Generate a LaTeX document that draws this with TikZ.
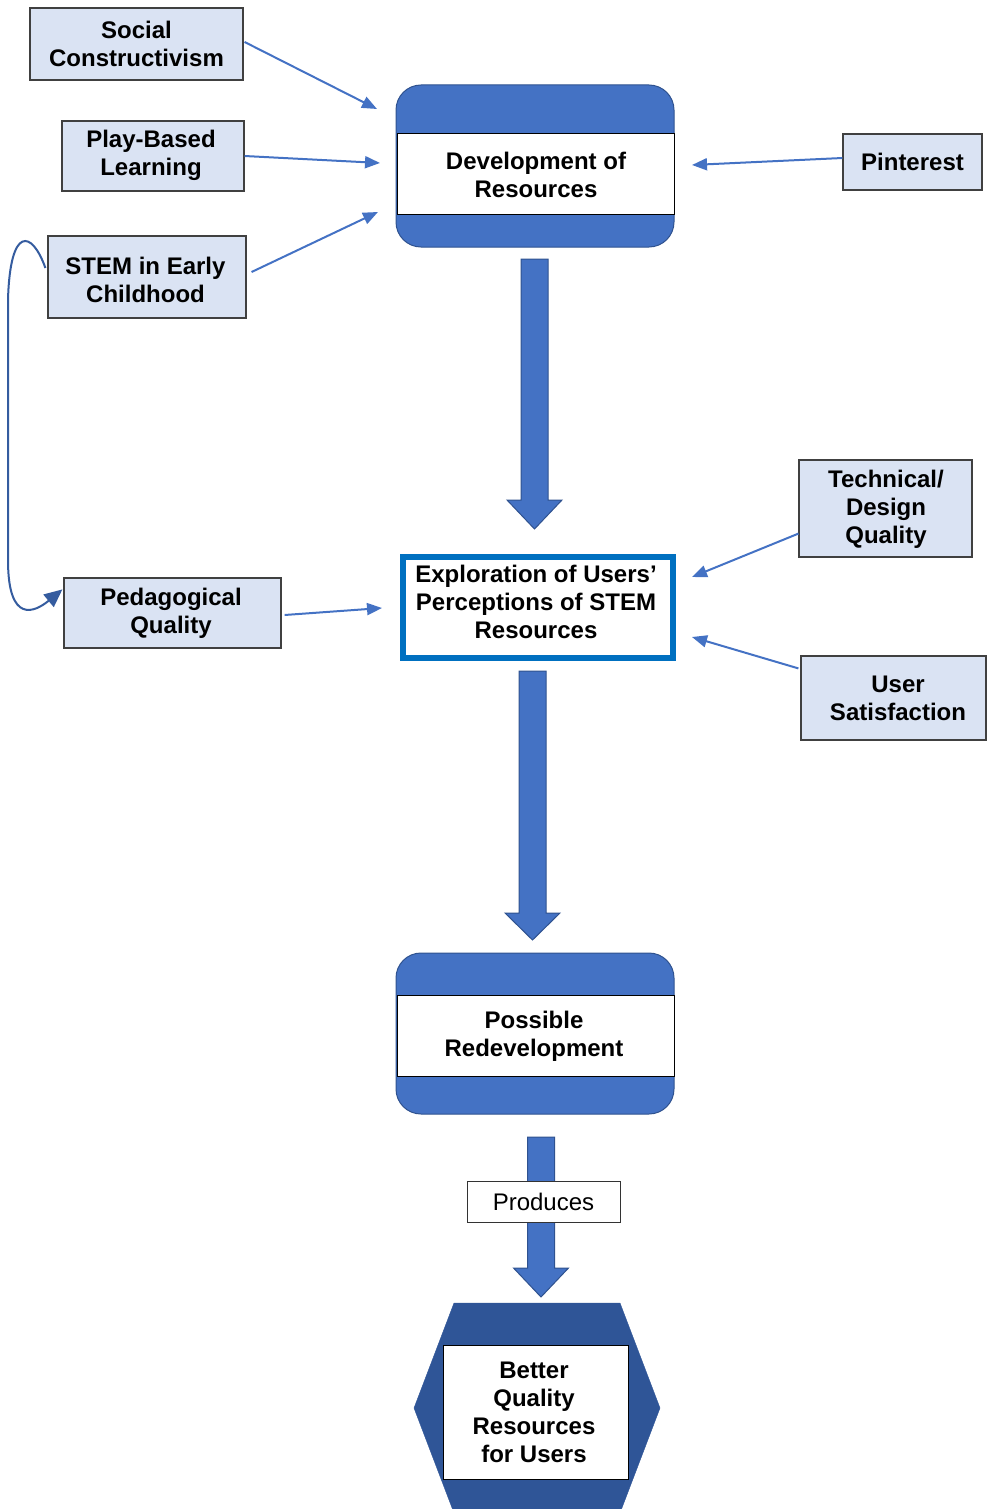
\documentclass[tikz,border=0pt]{standalone}
\usepackage{fontspec}
\setmainfont{Liberation Sans}
\usetikzlibrary{arrows.meta,calc}
\definecolor{lightbox}{HTML}{DAE3F3}
\definecolor{blueone}{HTML}{4472C4}
\definecolor{blueedge}{HTML}{2F528F}
\definecolor{hexblue}{HTML}{2F5597}
\definecolor{explblue}{HTML}{0070C0}
\definecolor{arrowblue}{HTML}{4472C4}
\newcommand\blkarrow[4]{%
  \filldraw[fill=blueone, draw=blueedge, line width=1pt]
    (#1-13.5,#2) -- (#1+13.5,#2) -- (#1+13.5,#3) -- (#1+27.5,#3) -- (#1,#4)
    -- (#1-27.5,#3) -- (#1-13.5,#3) -- cycle;}
\begin{document}
\begin{tikzpicture}[x=1pt,y=-1pt,
  txt/.style={font=\bfseries\fontsize{24}{28}\selectfont, align=center, inner sep=0pt, yshift=2pt},
  src/.style={draw=black!75, line width=1.2pt, fill=lightbox, inner sep=0pt},
  thinarrow/.style={draw=arrowblue, line width=2pt, -{Triangle[length=15pt,width=12pt]}},
  roundbox/.style={draw=blueedge, line width=1pt, fill=blueone, rounded corners=25pt, minimum width=278pt, minimum height=162pt, inner sep=0pt},
  band/.style={draw=black, line width=1pt, fill=white, minimum width=277pt, minimum height=80pt, inner sep=0pt},
]
\useasboundingbox (0,0) rectangle (987,1509);

% source boxes
\node[src, minimum width=213pt, minimum height=72pt] (social) at (136.5,44) {};
\node[txt] (socialt) at (136.5,46) {Social\\Constructivism};
\node[src, minimum width=182pt, minimum height=70pt] (play) at (153,156) {};
\node[txt] (playt) at (151,157.5) {Play-Based\\Learning};
\node[src, minimum width=198pt, minimum height=82pt] (stem) at (147,277) {};
\node[txt] (stemt) at (145.5,282) {STEM in Early\\Childhood};
\node[src, minimum width=139pt, minimum height=56pt] (pin) at (912.5,162) {};
\node[txt] (pint) at (912.5,163.5) {Pinterest};
\node[src, minimum width=173pt, minimum height=97pt] (tech) at (885.5,508.5) {};
\node[txt] (techt) at (886,511) {Technical/\\Design\\Quality};
\node[src, minimum width=185pt, minimum height=84pt] (user) at (893.5,698) {};
\node[txt] (usert) at (898,700.5) {User\\Satisfaction};
\node[src, minimum width=217pt, minimum height=70pt] (ped) at (172.5,613) {};
\node[txt] (pedt) at (171,615.5) {Pedagogical\\Quality};

% development of resources
\node[roundbox] (dev) at (535,166) {};
\node[band] (devband) at (535.5,174) {};
\node[txt] (devt) at (536,176.5) {Development of\\Resources};

% exploration
\node[draw=explblue, line width=6pt, fill=white, minimum width=270pt, minimum height=101pt, inner sep=0pt] (expl) at (538,607.5) {};
\node[txt] (explt) at (536,603.5) {Exploration of Users'\\Perceptions of STEM\\Resources};

% possible redevelopment
\node[roundbox, minimum height=161pt] (redev) at (535,1033.5) {};
\node[band, minimum height=81pt] (redevband) at (535.5,1035.5) {};
\node[txt] (redevt) at (534,1038) {Possible\\Redevelopment};

% hexagon
\filldraw[fill=hexblue, draw=hexblue] (414,1408) -- (454,1303) -- (620,1303) -- (660,1408) -- (620,1513) -- (454,1513) -- cycle;
\node[draw=black, line width=1pt, fill=white, minimum width=185pt, minimum height=134pt, inner sep=0pt] (hexbox) at (535.5,1412) {};
\node[txt] (hext) at (534,1414) {Better\\Quality\\Resources\\for Users};

% block arrows
\blkarrow{534.5}{259}{500}{529}
\blkarrow{532.5}{671}{913}{940}
\blkarrow{541}{1137}{1268}{1297}
\node[draw=black!80, line width=1pt, fill=white, minimum width=153pt, minimum height=41pt, inner sep=0pt, font=\fontsize{24}{28}\selectfont] (prod) at (543.5,1202) {Produces};

% thin arrows
\coordinate (e1) at (377,109);
\coordinate (e2) at (380,163);
\coordinate (e3) at (378,212);
\coordinate (e4) at (692,165);
\coordinate (e5) at (692,577);
\coordinate (e6) at (692,637);
\coordinate (e7) at (382,608);
\draw[thinarrow] ($(social.east)+(1,-2)$) -- (e1);
\draw[thinarrow] (play.east) -- (e2);
\draw[thinarrow] ($(stem.east)+(5,-5)$) -- (e3);
\draw[thinarrow] ($(pin.west)+(0,-4)$) -- (e4);
\draw[thinarrow] ($(tech.south west)+(0,-24)$) -- (e5);
\draw[thinarrow] ($(user.north west)+(-2,13)$) -- (e6);
\draw[thinarrow] ($(ped.east)+(3,2)$) -- (e7);

% curved arrow
\draw[draw=blueedge!70!arrowblue, line width=2pt, -{Triangle[length=18pt,width=16pt]}]
  ($(stem.west)+(-2,-9)$) .. controls (32,230) and (10,225) .. (8,300)
  -- (8,560) .. controls (8,625) and (35,612) .. ($(ped.north west)+(-1,12)$);
\end{tikzpicture}
\end{document}
